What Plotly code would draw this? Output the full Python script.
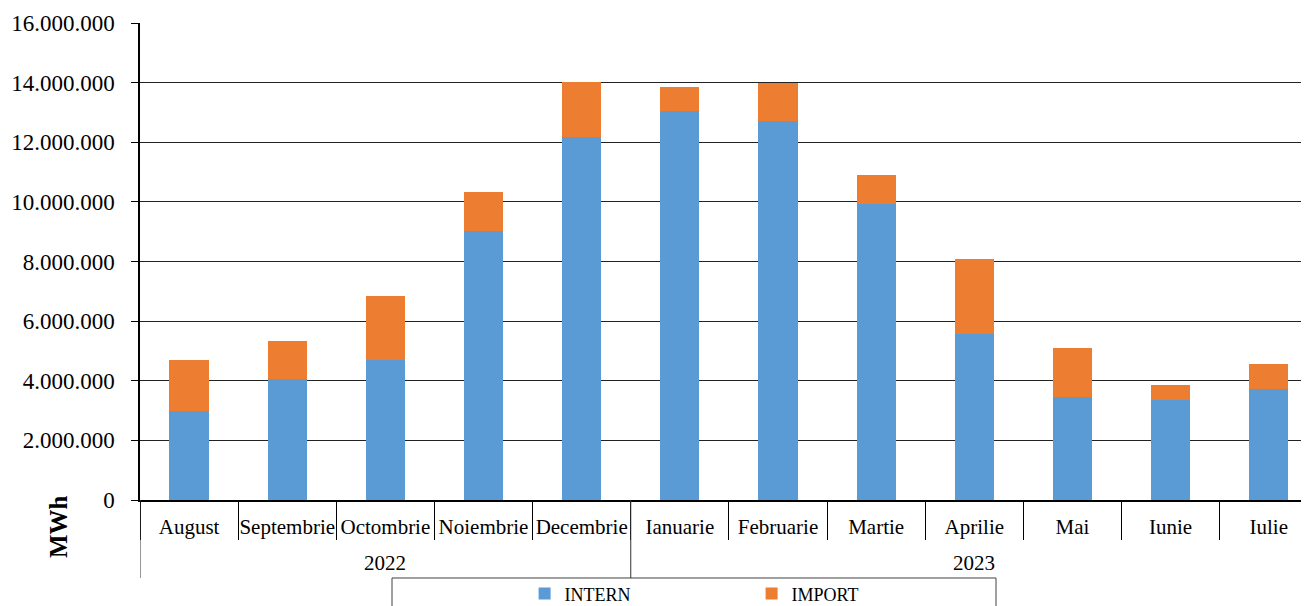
import plotly.graph_objects as go

years = ["2022"] * 5 + ["2023"] * 7
months = ["August", "Septembrie", "Octombrie", "Noiembrie", "Decembrie",
          "Ianuarie", "Februarie", "Martie", "Aprilie", "Mai", "Iunie", "Iulie"]
intern = [2970000, 4070000, 4710000, 9040000, 12180000,
          13040000, 12700000, 9920000, 5570000, 3470000, 3360000, 3740000]
total = [4690000, 5330000, 6840000, 10330000, 14020000,
         13850000, 13990000, 10890000, 8090000, 5090000, 3850000, 4570000]
imp = [t - i for t, i in zip(total, intern)]

y_ticks = list(range(0, 16000001, 2000000))

FONT = "Liberation Serif, Times New Roman, serif"

# year groups: centre index and start boundary derived from the years list
groups = []
for i, yv in enumerate(years):
    if not groups or groups[-1][0] != yv:
        groups.append([yv, i, i])
    else:
        groups[-1][2] = i

fig = go.Figure()
fig.add_trace(go.Bar(x=months, y=intern, name="INTERN",
                     marker=dict(color="#5B9BD5", line=dict(width=0))))
fig.add_trace(go.Bar(x=months, y=imp, name="IMPORT",
                     marker=dict(color="#ED7D31", line=dict(width=0))))

shapes = [dict(type="rect", xref="paper", yref="paper",
               x0=(392 - 140) / 1169, x1=(996 - 140) / 1169,
               y0=-0.1635, y1=-0.3,
               line=dict(color="#404040", width=1), fillcolor="rgba(0,0,0,0)",
               layer="above")]
annotations = [dict(text="<b>MWh</b>", xref="paper", yref="paper",
                    x=(58 - 140) / 1169, y=(500 - 527) / 477,
                    xanchor="center", yanchor="middle", showarrow=False,
                    textangle=-90,
                    font=dict(family=FONT, size=25, color="black"))]
for name, start, end in groups:
    shapes.append(dict(type="line", xref="x", yref="paper",
                       x0=start - 0.5, x1=start - 0.5, y0=0, y1=-0.1635,
                       line=dict(color="#333", width=1)))
    annotations.append(dict(text=name, xref="x", yref="paper",
                            x=(start + end) / 2, y=(500 - 563) / 477,
                            xanchor="center", yanchor="middle", showarrow=False,
                            font=dict(family=FONT, size=21, color="black")))

fig.update_layout(
    width=1301, height=598,
    barmode="stack", bargap=0.6,
    separators=",.",
    plot_bgcolor="white", paper_bgcolor="white",
    margin=dict(l=132, r=0, t=15, b=106, autoexpand=False),
    font=dict(family=FONT, color="black"),
    showlegend=True,
    legend=dict(orientation="h", x=0.329, xanchor="left", y=-0.158, yanchor="top",
                font=dict(family=FONT, size=18, color="black"),
                entrywidth=182, entrywidthmode="pixels",
                bgcolor="rgba(0,0,0,0)", borderwidth=0, traceorder="normal"),
    xaxis=dict(type="category", range=[-0.5, 11.41], automargin=False,
               tickangle=0, ticklabelstandoff=7,
               showline=True, linecolor="black", linewidth=1.5,
               ticks="outside", tickson="boundaries", ticklen=38,
               tickcolor="black", tickwidth=1,
               tickfont=dict(family=FONT, size=21, color="black"),
               showgrid=False),
    yaxis=dict(range=[0, 16000000], tickvals=y_ticks, tickformat=",d",
               automargin=False,
               showline=True, linecolor="black", linewidth=1.5,
               ticks="outside", ticklen=7, tickcolor="black",
               ticklabelstandoff=12,
               showgrid=True, gridcolor="#222", gridwidth=1,
               zeroline=False,
               tickfont=dict(family=FONT, size=23, color="black")),
    shapes=shapes,
    annotations=annotations,
)

fig.write_html("out.html")
